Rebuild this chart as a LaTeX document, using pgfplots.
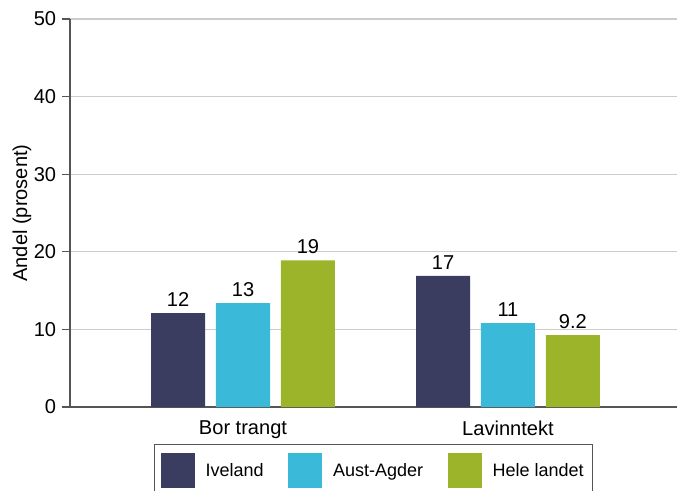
\documentclass[border=0pt]{standalone}
\usepackage{pgfplots}
\pgfplotsset{compat=1.18}
\usepackage{fontspec}
\setmainfont{Liberation Sans}
\definecolor{cIve}{HTML}{3A3C60}
\definecolor{cAus}{HTML}{3BB9D8}
\definecolor{cHel}{HTML}{9BB42A}
\definecolor{gridc}{HTML}{CCCCCC}
\definecolor{axc}{HTML}{555555}
\begin{document}
\begin{tikzpicture}
\begin{axis}[
  at={(0,0)}, anchor=south west,
  scale only axis, width=6.07in, height=3.88in,
  xmin=-0.653, xmax=1.638, ymin=0, ymax=50,
  axis x line*=bottom, axis y line*=left,
  axis line style={axc, line width=0.8pt},
  xtick={0,1}, xticklabels={Bor trangt, Lavinntekt},
  x tick style={draw=none},
  ytick={0,10,20,30,40,50},
  y tick style={axc, line width=0.8pt},
  tick align=outside, major tick length=0.08in,
  ymajorgrids, grid style={gridc, line width=0.8pt},
  /pgf/number format/assume math mode=true,
  tick label style={font=\fontsize{14.5}{16}\selectfont, text=black},
  yticklabel style={xshift=-0.01in},
  ylabel={Andel (prosent)},
  label style={font=\fontsize{14.5}{16}\selectfont},
  ylabel style={at={(axis description cs:0,0.5)}, anchor=center, yshift=0.48in},
  xticklabel style={yshift=-0.01in},
  ybar, bar width=0.204, 
  point meta=explicit symbolic,
  nodes near coords,
  nodes near coords style={font=\fontsize{14.5}{16}\selectfont, text=black, yshift=1pt},
  legend columns=3,
  legend style={at={(0.1390,-0.0950)}, anchor=north west, draw=axc, line width=0.6pt,
    font=\fontsize{13}{15}\selectfont, inner xsep=0.06in, inner ysep=0.09in,
    /tikz/every even column/.append style={column sep=0.22in}},
  legend image code/.code={\fill[#1] (0in,-0.175in) rectangle (0.34in,0.175in); \path (0.42in,0);},
  clip=false,
]
\addplot[fill=cIve, draw=none, bar shift=-0.245] coordinates {(0,12.1) [12] (1,16.9) [17]};
\addplot[fill=cAus, draw=none, bar shift=0] coordinates {(0,13.4) [13] (1,10.8) [11]};
\addplot[fill=cHel, draw=none, bar shift=0.245] coordinates {(0,18.9) [19] (1,9.25) [9.2]};
\legend{Iveland, Aust-Agder, Hele landet}
\end{axis}
\pgfresetboundingbox
\useasboundingbox (-0.70in,-0.84in) rectangle (6.07in,4.07in);
\end{tikzpicture}
\end{document}
